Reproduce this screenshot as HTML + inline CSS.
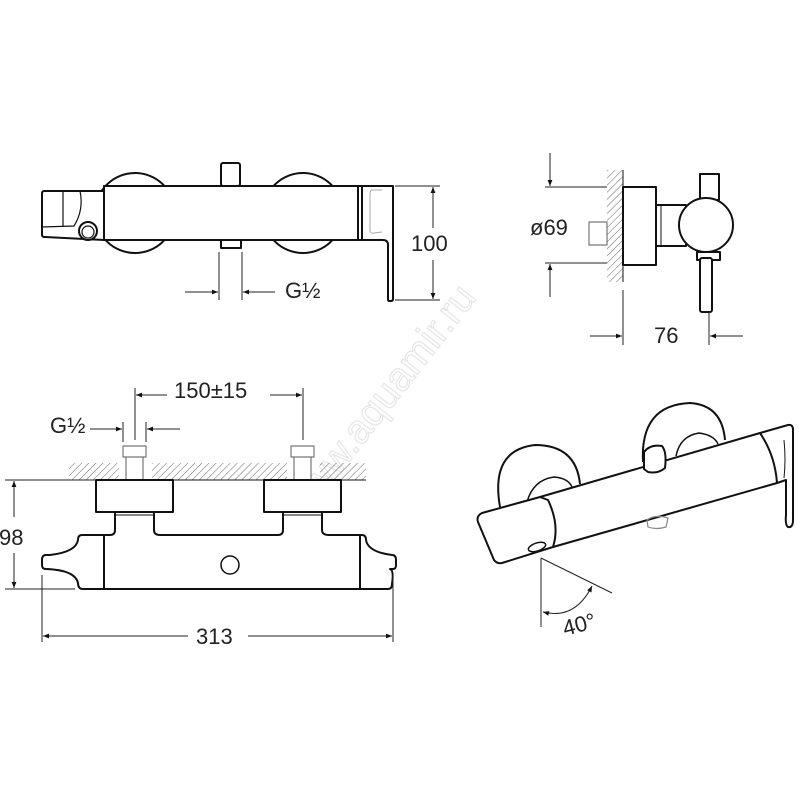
<!DOCTYPE html>
<html><head><meta charset="utf-8"><style>
html,body{margin:0;padding:0;background:#fff}
svg{display:block}
text{font-family:"Liberation Sans",sans-serif;fill:#222}
</style></head><body>
<svg width="800" height="800" viewBox="0 0 800 800" xmlns="http://www.w3.org/2000/svg">
<defs>
<pattern id="h" patternUnits="userSpaceOnUse" width="5" height="5" patternTransform="rotate(45)">
<line x1="0" y1="0" x2="0" y2="5" stroke="#666" stroke-width="1"/>
</pattern>
<marker id="a" viewBox="0 0 10 10" refX="10" refY="5" markerWidth="12" markerHeight="6" orient="auto-start-reverse" markerUnits="userSpaceOnUse">
<path d="M0,1 L10,5 L0,9 z" fill="#111"/>
</marker>
</defs>

<text x="0" y="0" transform="translate(390,410) rotate(-52)" text-anchor="middle" font-size="40" style="fill:none" stroke="#e6e6e6" stroke-width="1.2">www.aquamir.ru</text>

<g fill="none" stroke="#111" stroke-width="2" stroke-linejoin="round">
<!-- TOP VIEW -->
<circle cx="135" cy="213" r="40"/>
<circle cx="303" cy="213" r="40"/>
<rect x="221" y="163" width="19" height="23" rx="2" fill="#fff"/>
<path d="M221,248 L221,237 Q231,226 241,237 L241,248 Z" fill="#fff"/>
<rect x="104" y="186" width="254" height="54" fill="#fff"/>
<path d="M104,191 L44,191 Q42,191 42,194 L42,235 Q42,237 45,237 L104,240 Z" fill="#fff"/>
<path d="M80,191 Q84,210 74,226 L42,227" stroke-width="1.2"/>
<line x1="63" y1="191" x2="63" y2="226" stroke-width="1.2"/>
<circle cx="88" cy="231" r="9" fill="#fff"/>
<circle cx="88" cy="232" r="6" stroke-width="1.2"/>
<path d="M358,186 L393,186 L393,299 Q393,301 391,301 L389,301 Q388,301 388,299 L388,245 Q388,240 383,240 L358,240 Z" fill="#fff"/>
<line x1="362" y1="186" x2="362" y2="240"/>
<path d="M382,190 L372,190 Q370,190 370,195 L370,230 Q370,234 374,233 L382,232" stroke-width="1" stroke="#aaa"/>

<!-- SIDE VIEW -->
<rect x="589" y="222" width="18" height="23" stroke-width="1.2" stroke="#777"/>
<rect x="607" y="170" width="16" height="112" fill="url(#h)" stroke="none"/>
<line x1="623" y1="170" x2="623" y2="282" stroke-width="1"/>
<rect x="623" y="187" width="33" height="78" fill="#fff"/>
<rect x="656" y="205" width="30" height="41" fill="#fff"/>
<line x1="661" y1="205" x2="661" y2="246" stroke-width="1"/>
<rect x="700" y="174" width="19" height="26" fill="#fff"/>
<rect x="697" y="252" width="23" height="8" fill="#fff"/>
<rect x="700" y="258" width="12" height="54" rx="2" fill="#fff"/>
<circle cx="706" cy="225" r="27" fill="#fff"/>

<!-- FRONT VIEW -->
<rect x="69" y="463" width="50" height="17" fill="url(#h)" stroke="none"/>
<rect x="152" y="463" width="135" height="17" fill="url(#h)" stroke="none"/>
<rect x="320" y="463" width="46" height="17" fill="url(#h)" stroke="none"/>
<line x1="69" y1="480" x2="366" y2="480" stroke-width="1"/>
<rect x="123" y="446" width="23" height="11" stroke-width="1.2" stroke="#777"/>
<path d="M126,457 L126,480 M143,457 L143,480" stroke-width="1.2" stroke="#777"/>
<rect x="291" y="446" width="23" height="11" stroke-width="1.2" stroke="#777"/>
<path d="M294,457 L294,480 M311,457 L311,480" stroke-width="1.2" stroke="#777"/>
<rect x="96" y="480" width="77" height="32" fill="#fff"/>
<rect x="264" y="480" width="77" height="32" fill="#fff"/>
<path d="M115,512 L115,530 Q115,535 110,535 L82,535 Q78,535 78,540 Q76,552 50,555 L46,555 Q42,555 42,560 L42,565 Q42,569 46,569 Q75,570 78,583 Q78,589 83,589 L388,589 Q392,589 392,584 Q394,570 390,569 L393,569 Q396,569 396,565 L396,560 Q396,555 392,555 Q368,552 366,540 Q366,535 362,535 L329,535 Q322,535 322,530 L322,512 L283,512 L283,530 Q283,535 278,535 L160,535 Q154,535 154,530 L154,512 Z" fill="#fff"/>
<line x1="104" y1="536" x2="104" y2="589"/>
<line x1="360" y1="536" x2="360" y2="589"/>
<line x1="115" y1="515" x2="154" y2="515" stroke-width="1"/>
<line x1="283" y1="515" x2="322" y2="515" stroke-width="1"/>
<circle cx="230" cy="565" r="9" stroke-width="1.5"/>

<!-- PERSPECTIVE -->
<path d="M500,507 Q490,450 535,445 Q576,445 580,484" fill="#fff"/>
<path d="M527,502 Q533,480 554,477 Q568,478 572,487" stroke-width="1.5"/>
<path d="M643,462 Q640,405 690,403 Q722,405 725,440" fill="#fff"/>
<path d="M676,456 Q680,436 699,433 Q714,435 718,444" stroke-width="1.5"/>
<path d="M540,497 L760,433 L788,425 Q793,424 793,430 L793,520 Q793,528 788,527 Q785,525 786,515 L786,480 L777,483 L553,547" fill="#fff"/>
<path d="M760,433 Q775,455 777,483" />
<path d="M784,440 Q786,460 784,478" stroke-width="1"/>
<path d="M540,497 L482,513 Q476,516 478,522 L494,560 Q497,564 502,563 L553,547 Q560,525 548,500 Z" fill="#fff"/>
<ellipse cx="537" cy="547" rx="9" ry="4" transform="rotate(-18 537 547)" fill="#fff" stroke-width="1.5"/>
<path d="M644,469 L644,452 Q650,444 662,446 Q667,452 665,468 Q658,474 648,472 Z" fill="#fff"/>
<path d="M647,520 Q655,514 668,518 L666,527 Q656,530 648,527 Z" stroke="#888" stroke-width="1.2"/>
</g>

<g stroke="#222" stroke-width="1" fill="none">
<path d="M395,186 L440,186 M395,300 L440,300"/>
<line x1="433" y1="228" x2="433" y2="187" marker-end="url(#a)"/>
<line x1="433" y1="260" x2="433" y2="299" marker-end="url(#a)"/>
<path d="M219,252 L219,300 M242,252 L242,300"/>
<line x1="185" y1="292" x2="218" y2="292" marker-end="url(#a)"/>
<line x1="275" y1="292" x2="243" y2="292" marker-end="url(#a)"/>
<path d="M545,187 L607,187 M545,263 L607,263"/>
<line x1="550" y1="153" x2="550" y2="186" marker-end="url(#a)"/>
<line x1="550" y1="297" x2="550" y2="264" marker-end="url(#a)"/>
<path d="M623,290 L623,345 M709,312 L709,345"/>
<line x1="590" y1="336" x2="622" y2="336" marker-end="url(#a)"/>
<line x1="743" y1="336" x2="710" y2="336" marker-end="url(#a)"/>
<path d="M135,388 L135,440 M303,388 L303,440"/>
<line x1="167" y1="395" x2="136" y2="395" marker-end="url(#a)"/>
<line x1="270" y1="395" x2="302" y2="395" marker-end="url(#a)"/>
<path d="M123,422 L123,442 M146,422 L146,442"/>
<line x1="90" y1="429" x2="122" y2="429" marker-end="url(#a)"/>
<line x1="180" y1="429" x2="147" y2="429" marker-end="url(#a)"/>
<path d="M5,480 L96,480 M5,589 L75,589"/>
<line x1="14" y1="517" x2="14" y2="481" marker-end="url(#a)"/>
<line x1="14" y1="553" x2="14" y2="588" marker-end="url(#a)"/>
<path d="M42,575 L42,642 M393,575 L393,642"/>
<line x1="188" y1="636" x2="43" y2="636" marker-end="url(#a)"/>
<line x1="248" y1="636" x2="392" y2="636" marker-end="url(#a)"/>
<path d="M541,558 L541,627 M541,558 L612,593"/>
<path d="M543,612 Q575,620 592,586" marker-start="url(#a)" marker-end="url(#a)"/>
</g>

<g font-size="22">
<text x="411" y="251">100</text>
<text x="285" y="298">G½</text>
<text x="530" y="235">ø69</text>
<text x="654" y="343">76</text>
<text x="174" y="398">150±15</text>
<text x="50" y="433">G½</text>
<text x="-1" y="545">98</text>
<text x="196" y="644">313</text>
<text x="565" y="636" transform="rotate(-15 565 636)">40°</text>
</g>
</svg>
</body></html>
